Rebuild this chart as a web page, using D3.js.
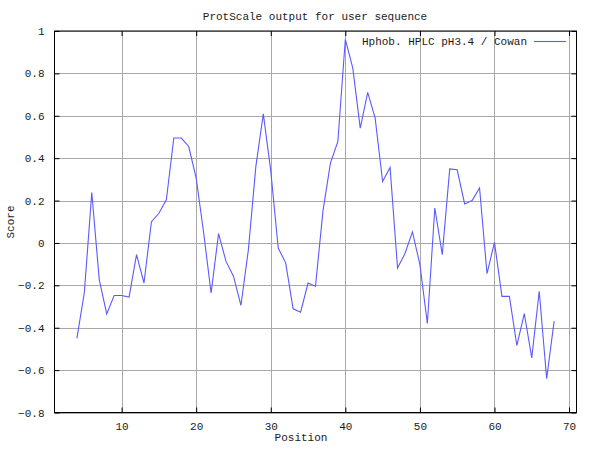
<!DOCTYPE html>
<html><head><meta charset="utf-8">
<script src="https://cdn.jsdelivr.net/npm/d3@7"></script>
<style>body{margin:0;background:#fff}svg{display:block}text{font-family:"Liberation Mono","DejaVu Sans Mono",monospace;font-size:11px;fill:#1a1a1a}</style>
</head><body>
<script>
const positions = [4,5,6,7,8,9,10,11,12,13,14,15,16,17,18,19,20,21,22,23,24,25,26,27,28,29,30,31,32,33,34,35,36,37,38,39,40,41,42,43,44,45,46,47,48,49,50,51,52,53,54,55,56,57,58,59,60,61,62,63,64,65,66,67,68];
const scores = [-0.45,-0.235,0.238,-0.173,-0.335,-0.248,-0.248,-0.255,-0.055,-0.189,0.10,0.14,0.204,0.495,0.495,0.455,0.306,0.048,-0.236,0.044,-0.087,-0.157,-0.295,-0.032,0.36,0.609,0.34,-0.024,-0.094,-0.311,-0.327,-0.189,-0.204,0.15,0.377,0.479,0.961,0.825,0.542,0.71,0.589,0.29,0.356,-0.118,-0.05,0.052,-0.102,-0.38,0.165,-0.055,0.349,0.345,0.184,0.2,0.259,-0.145,0.003,-0.252,-0.252,-0.484,-0.333,-0.542,-0.228,-0.641,-0.369];
const xTicks = [10,20,30,40,50,60,70];
const yTicks = [-0.8,-0.6,-0.4,-0.2,0,0.2,0.4,0.6,0.8,1];
const title = "ProtScale output for user sequence";
const seriesName = "Hphob. HPLC pH3.4 / Cowan";

const W=600,H=451, L=54.5, R=576.5, T=31, B=412.5;
const svg=d3.select("body").append("svg").attr("width",W).attr("height",H);
const x=d3.scaleLinear().domain([1,71]).range([L,R]);
const y=d3.scaleLinear().domain([-0.8,1]).range([B,T]);
const fmt=v=>v===0?"0":(v===1?"1":d3.format(".1f")(v));

// grid
svg.append("g").selectAll("line").data(xTicks).join("line")
 .attr("x1",d=>Math.round(x(d))+0.5).attr("x2",d=>Math.round(x(d))+0.5).attr("y1",T).attr("y2",B)
 .attr("stroke","#a8a8a8").attr("stroke-width",1);
svg.append("g").selectAll("line").data(yTicks).join("line")
 .attr("y1",d=>Math.round(y(d))+0.5).attr("y2",d=>Math.round(y(d))+0.5).attr("x1",L).attr("x2",R)
 .attr("stroke","#a8a8a8").attr("stroke-width",1);

// axes via d3
const gx=svg.append("g").attr("transform",`translate(0,${B})`).call(d3.axisBottom(x).tickValues(xTicks).tickSize(-5).tickPadding(10).tickFormat(d3.format("d")));
const gy=svg.append("g").attr("transform",`translate(${L},0)`).call(d3.axisLeft(y).tickValues(yTicks).tickSize(-5).tickPadding(10).tickFormat(fmt));
const gx2=svg.append("g").attr("transform",`translate(0,${T})`).call(d3.axisTop(x).tickValues(xTicks).tickSize(-5).tickFormat(""));
const gy2=svg.append("g").attr("transform",`translate(${R},0)`).call(d3.axisRight(y).tickValues(yTicks).tickSize(-5).tickFormat(""));
[gx,gy,gx2,gy2].forEach(g=>{g.select(".domain").remove();g.selectAll("text").style("font-family",'"Liberation Mono","DejaVu Sans Mono",monospace').style("font-size","11px").attr("fill","#1a1a1a");g.selectAll("line").attr("stroke","#000")});
svg.append("rect").attr("x",L).attr("y",T).attr("width",R-L).attr("height",B-T).attr("fill","none").attr("stroke","#000").attr("stroke-width",1);

// data line
svg.append("path").datum(positions.map((p,i)=>[p,scores[i]]))
 .attr("d",d3.line().x(d=>x(d[0])).y(d=>y(d[1])))
 .attr("fill","none").attr("stroke","#5a5aff").attr("stroke-width",1.1);

// legend
svg.append("text").attr("x",527).attr("y",45).attr("text-anchor","end").text(seriesName);
svg.append("line").attr("x1",534).attr("x2",566).attr("y1",41.5).attr("y2",41.5).attr("stroke","#5a5aff").attr("stroke-width",1.1);

// titles
svg.append("text").attr("x",315).attr("y",20).attr("text-anchor","middle").text(title);
svg.append("text").attr("x",301).attr("y",441).attr("text-anchor","middle").text("Position");
svg.append("text").attr("transform","translate(14,222) rotate(-90)").attr("text-anchor","middle").text("Score");
</script>
</body></html>
